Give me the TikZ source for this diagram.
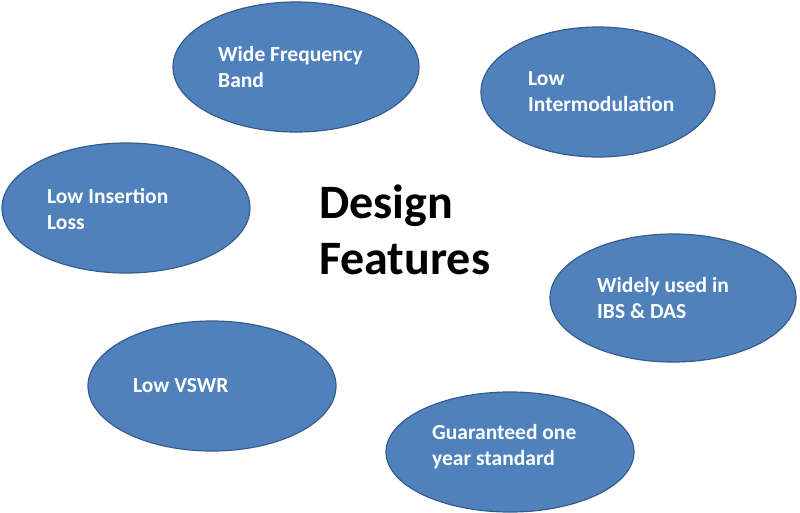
\documentclass[tikz,border=0pt]{standalone}
\usepackage{fontspec}
\setmainfont{Carlito}
\usetikzlibrary{shapes.geometric}
\definecolor{ovalfill}{HTML}{4F81BD}
\definecolor{ovaldraw}{HTML}{385D8A}
\tikzset{
  oval/.style={ellipse, draw=ovaldraw, line width=1.2pt, fill=ovalfill, inner sep=0pt},
  ovaltext/.style={anchor=west, text=white, align=left, font=\fontsize{21.5}{26}\selectfont\bfseries, inner sep=0pt},
  title/.style={anchor=west, text=black, align=left, font=\fontsize{48}{56}\selectfont\bfseries, inner sep=0pt}
}
\begin{document}
\begin{tikzpicture}[x=1pt,y=-1pt]
\useasboundingbox (0,0) rectangle (800,512);
\fill[white] (0,0) rectangle (800,512);
\node[oval, minimum width=246pt, minimum height=130pt] (o1) at (296,67) {};
\node[ovaltext] (t1) at (218,67) {Wide Frequency\\Band};
\node[oval, minimum width=234pt, minimum height=130pt] (o2) at (598,92) {};
\node[ovaltext] (t2) at (528,92) {Low\\Intermodulation};
\node[oval, minimum width=248pt, minimum height=130pt] (o3) at (126,208) {};
\node[ovaltext] (t3) at (47,209) {Low Insertion\\Loss};
\node[oval, minimum width=246pt, minimum height=128pt] (o4) at (673,298) {};
\node[ovaltext] (t4) at (597,298) {Widely used in\\IBS \& DAS};
\node[oval, minimum width=248pt, minimum height=130pt] (o5) at (212,386) {};
\node[ovaltext] (t5) at (133,386) {Low VSWR};
\node[oval, minimum width=248pt, minimum height=120pt] (o6) at (510,452) {};
\node[ovaltext] (t6) at (432,447) {Guaranteed one\\year standard};
\node[title] (c) at (319,230) {Design\\Features};
\end{tikzpicture}
\end{document}
